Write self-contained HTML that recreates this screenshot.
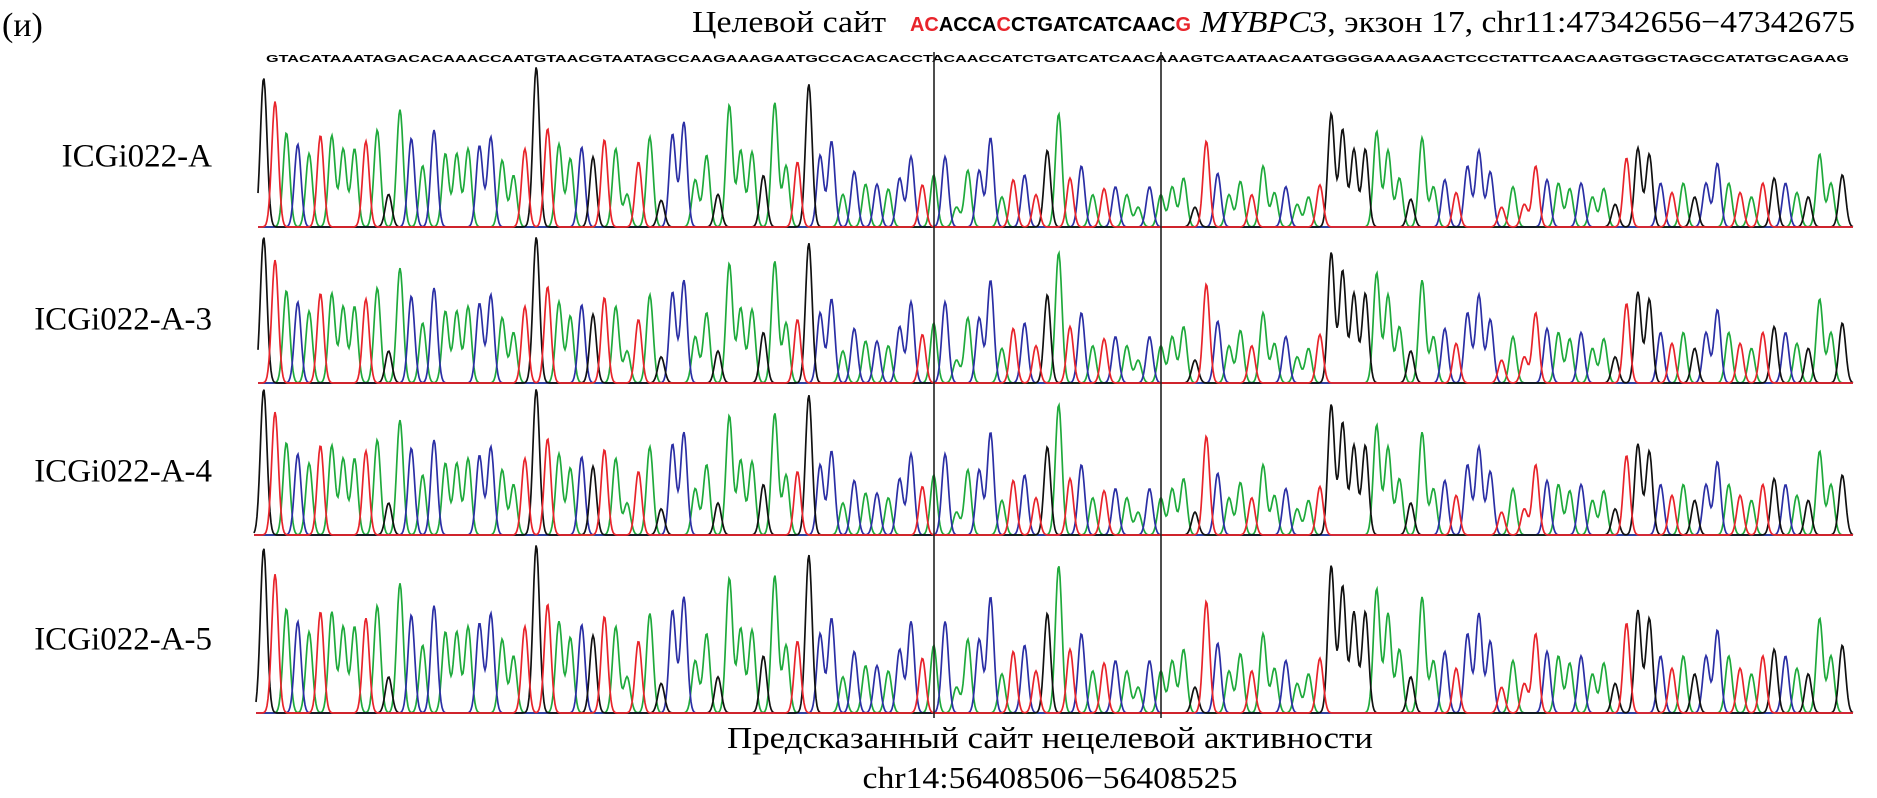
<!DOCTYPE html>
<html><head><meta charset="utf-8">
<style>
html,body{margin:0;padding:0;background:#fff;}
svg{display:block;}
.serif{font-family:"Liberation Serif","DejaVu Serif",serif;}
.sans{font-family:"Liberation Sans","DejaVu Sans",sans-serif;}
</style></head>
<body>
<svg id="chart" width="1877" height="798" viewBox="0 0 1877 798" xmlns="http://www.w3.org/2000/svg">
  <text class="serif" x="2" y="36" font-size="34">(и)</text>
  <text class="serif" x="692" y="32" font-size="31" textLength="194" lengthAdjust="spacingAndGlyphs">Целевой сайт</text>
  <text class="sans" x="910" y="31" font-size="20" font-weight="bold" textLength="281" lengthAdjust="spacingAndGlyphs"><tspan fill="#e8242b">AC</tspan>ACCA<tspan fill="#e8242b">C</tspan>CTGATCATCAAC<tspan fill="#e8242b">G</tspan></text>
  <text class="serif" x="1200" y="32" font-size="31" textLength="655" lengthAdjust="spacingAndGlyphs"><tspan font-style="italic">MYBPC3</tspan>, экзон  17, chr11:47342656−47342675</text>
  <text class="sans" x="266" y="62" font-size="10" font-weight="bold" textLength="1583" lengthAdjust="spacingAndGlyphs">GTACATAAATAGACACAAACCAATGTAACGTAATAGCCAAGAAAGAATGCCACACACCTACAACCATCTGATCATCAACAAAGTCAATAACAATGGGGAAAGAACTCCCTATTCAACAAGTGGCTAGCCATATGCAGAAG</text>
  <g id="tracks"></g>
  <line x1="934" y1="52" x2="934" y2="718" stroke="#222" stroke-width="1.6"/>
  <line x1="1161" y1="52" x2="1161" y2="718" stroke="#222" stroke-width="1.6"/>
  <text class="serif" x="1050" y="748" font-size="31" text-anchor="middle" textLength="646" lengthAdjust="spacingAndGlyphs">Предсказанный сайт нецелевой активности</text>
  <text class="serif" x="1050" y="788" font-size="31" text-anchor="middle" textLength="375" lengthAdjust="spacingAndGlyphs">chr14:56408506−56408525</text>
</svg>
<script>
const sampleNames = ["ICGi022-A","ICGi022-A-3","ICGi022-A-4","ICGi022-A-5"];
const peakBases = "GTACATAAATAGACACAAACCAATGTAACGTAATAGCCAAGAAAGAATGCCACACACCTACAACCATCTGATCATCAACAAAGTCAATAACAATGGGGAAAGAACTCCCTATTCAACAAGTGGCTAGCCATATGCAGAAG";
const peakHeights = [
0.88,0.66,0.41,0.33,0.27,0.39,0.39,0.30,0.30,0.35,
0.43,0.07,0.59,0.37,0.20,0.43,0.27,0.27,0.30,0.32,
0.38,0.23,0.15,0.30,0.99,0.44,0.33,0.24,0.31,0.25,
0.36,0.30,0.07,0.22,0.38,0.05,0.40,0.49,0.13,0.26,
0.07,0.63,0.29,0.28,0.15,0.65,0.20,0.22,0.82,0.26,
0.35,0.07,0.17,0.11,0.11,0.09,0.18,0.33,0.14,0.20,
0.33,0.04,0.23,0.23,0.49,0.08,0.17,0.20,0.09,0.38,
0.73,0.18,0.26,0.09,0.12,0.13,0.09,0.04,0.13,0.09,
0.13,0.18,0.04,0.46,0.21,0.09,0.16,0.09,0.26,0.10,
0.13,0.05,0.08,0.14,0.73,0.57,0.39,0.39,0.55,0.38,
0.18,0.07,0.49,0.13,0.17,0.10,0.26,0.38,0.22,0.04,
0.13,0.05,0.26,0.17,0.15,0.12,0.15,0.08,0.12,0.05,
0.32,0.40,0.35,0.15,0.10,0.15,0.08,0.15,0.28,0.15,
0.10,0.08,0.15,0.18,0.15,0.10,0.08,0.35,0.15,0.20];
const trackScaleLeft = [1.0, 1.08, 1.08, 1.06];
const trackScaleRight = [0.85, 1.08, 1.08, 1.06];
</script>
<script>
const NS="http://www.w3.org/2000/svg";
const colors={A:"#1faa3c",C:"#2b2fa5",G:"#111111",T:"#e8242b"};
const tracks=[{base:227,amp:161,left:258},{base:383,amp:146,left:258},{base:535,amp:146,left:254},{base:713,amp:168,left:256}];
const right=1853;
const g=document.getElementById('tracks');
const n=peakHeights.length;
function xScale(i){return 258+(i+0.5)*1590/n;}
function hScale(v){return Math.pow(Math.max(v,0),0.6);}
function yScale(v,t){return t.base-v*t.amp;}
tracks.forEach((t,ti)=>{
  const tg=document.createElementNS(NS,'g');
  
  
  g.appendChild(tg);
  const lab=document.createElementNS(NS,'text');
  
  
  lab.setAttribute('class','serif');
  lab.setAttribute('x',212);lab.setAttribute('y',t.base-t.amp*0.45+12);
  lab.setAttribute('font-size','33');lab.setAttribute('text-anchor','end');
  lab.textContent=sampleNames[ti];
  tg.appendChild(lab);
  const sig=3.3;
  ['A','C','G','T'].forEach(b=>{
    let d="";
    for(let x=t.left;x<=right;x+=1){
      let v=0;
      for(let i=0;i<n;i++){
        if(peakBases[i]!==b)continue;
        const dx=x-xScale(i);
        if(Math.abs(dx)>14)continue;
        const s=i<56?trackScaleLeft[ti]:trackScaleRight[ti];
        v+=Math.min(hScale(peakHeights[i])*s,1.0)*Math.exp(-dx*dx/(2*sig*sig));
      }
      d+=(d?"L":"M")+x+","+yScale(v,t).toFixed(1);
    }
    const p=document.createElementNS(NS,'path');
    
    
    p.setAttribute('d',d);p.setAttribute('fill','none');
    p.setAttribute('stroke',colors[b]);p.setAttribute('stroke-width','1.7');
    tg.appendChild(p);
  });
});
</script>
</body></html>
